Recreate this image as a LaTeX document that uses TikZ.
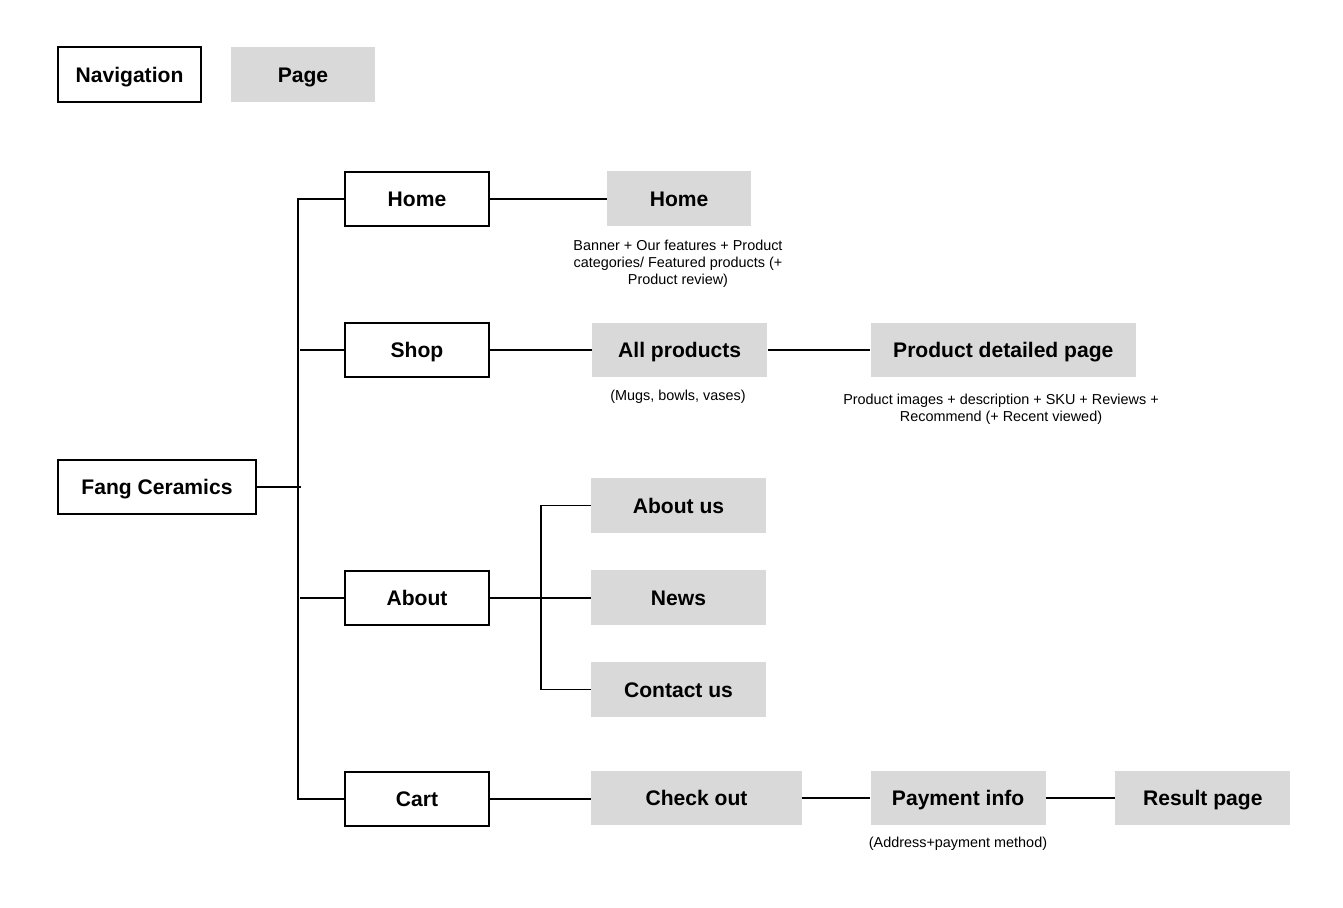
\documentclass[tikz,border=0pt]{standalone}
\usepackage{fontspec}
\setmainfont{Liberation Sans}
\usetikzlibrary{positioning}
\definecolor{pagegray}{HTML}{D9D9D9}

\begin{document}
\begin{tikzpicture}[
  x=0.02cm, y=-0.02cm,
  nav/.style={draw, line width=1pt, fill=white, inner sep=0pt, minimum width=2.88cm, minimum height=1.09cm, text height=0.9em, text depth=0pt, font=\bfseries\fontsize{12}{14}\selectfont},
  page/.style={fill=pagegray, inner sep=0pt, minimum width=3.5cm, minimum height=1.1cm, text height=0.9em, text depth=0pt, font=\bfseries\fontsize{12}{14}\selectfont},
  note/.style={align=center, font=\fontsize{8.2}{9.7}\selectfont},
  link/.style={line width=1.1pt}
]
\useasboundingbox (0,0) rectangle (1343,908);

% legend
\node[nav, minimum width=2.86cm] (legnav) at (129.5,74.5) {Navigation};
\node[page, minimum width=2.88cm] (legpage) at (303,74.5) {Page};

% navigation
\node[nav, minimum width=3.96cm] (fang) at (157,487) {Fang Ceramics};
\node[nav] (homenav) at (417,199) {Home};
\node[nav] (shopnav) at (417,350) {Shop};
\node[nav] (aboutnav) at (417,598) {About};
\node[nav] (cartnav) at (417,799) {Cart};

% pages
\node[page, minimum width=2.88cm, right=2.34cm of homenav] (homepage) {Home};
\node[page, right=2.04cm of shopnav] (allprod) {All products};
\node[page, minimum width=5.3cm, right=2.06cm of allprod] (detail) {Product detailed page};
\node[page] (aboutus) at (678.5,505.5) {About us};
\node[page] (news) at (678.5,597.5) {News};
\node[page] (contact) at (678.5,689.5) {Contact us};
\node[page, minimum width=4.22cm] (checkout) at (696.5,798) {Check out};
\node[page, right=1.36cm of checkout] (payment) {Payment info};
\node[page, right=1.38cm of payment] (result) {Result page};

% notes
\node[note] (homenote) at (678,263.5) {Banner + Our features + Product\\categories/ Featured products (+\\Product review)};
\node[note] (prodnote) at (678,396.5) {(Mugs, bowls, vases)};
\node[note] (detailnote) at (1001,409) {Product images + description + SKU + Reviews +\\Recommend (+ Recent viewed)};
\node[note] (paynote) at (958,843.5) {(Address+payment method)};

% tree lines
\coordinate (spine) at (298,0);
\coordinate (fork) at (541,0);
\draw[link] (homenav.west) -- (homenav.west -| spine) -- (cartnav.west -| spine) -- (cartnav.west);
\draw[link] (shopnav.west) -- ++(-44,0);
\draw[link] (aboutnav.west) -- ++(-44,0);
\draw[link] (fang.east) -- ++(44,0);
\draw[link] (homenav.east) -- (homenav.east -| homepage.west);
\draw[link] (shopnav) -- (allprod);
\draw[link] (allprod) -- (detail);
\draw[link] (aboutnav.east) -- (aboutnav.east -| news.west);
\draw[link] (aboutus.west) -- (aboutus.west -| fork) |- (contact.west);
\draw[link] (cartnav.east) -- (cartnav.east -| checkout.west);
\draw[link] (checkout) -- (payment);
\draw[link] (payment) -- (result);
\end{tikzpicture}
\end{document}
